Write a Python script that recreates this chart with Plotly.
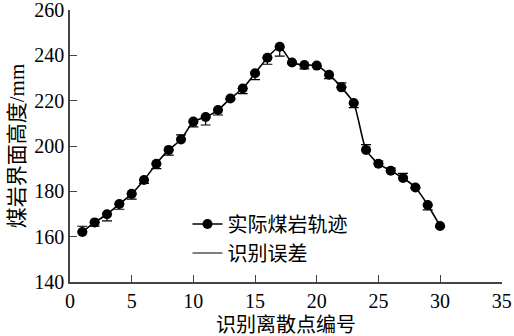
import plotly.graph_objects as go

point_ids = list(range(1, 31))
actual_height = [162.1, 166.3, 169.9, 174.4, 178.9, 185.0, 192.2, 198.3, 202.9, 210.8,
                 212.8, 215.9, 221.0, 225.4, 232.1, 239.0, 243.8, 236.9, 235.8, 235.5,
                 231.5, 225.9, 219.0, 198.3, 192.2, 189.1, 185.9, 181.7, 174.0, 164.7]
err_plus = [2.5, 0, 0, 0, 0, 0, 0, 0, 2.0, 0,
            0, 0, 0, 0, 0, 0, 0, 0, 0, 0,
            0, 2.0, 0, 2.3, 1.2, 1.2, 2.0, 0, 0, 0]
err_minus = [0, 1.7, 2.9, 2.3, 2.3, 1.5, 2.2, 2.3, 0, 2.3,
             3.5, 2.2, 0.5, 2.3, 2.8, 2.9, 4.1, 0.5, 1.7, 0.3,
             1.7, 0, 2.0, 0, 0, 0, 0, 0.3, 2.2, 0.6]

x_ticks = [0, 5, 10, 15, 20, 25, 30, 35]
y_ticks = [140, 160, 180, 200, 220, 240, 260]

FONT = '"Liberation Serif", "Times New Roman", "Noto Sans CJK SC", serif'

fig = go.Figure()
fig.add_trace(go.Scatter(
    x=point_ids, y=actual_height, mode="lines+markers", name="实际煤岩轨迹",
    line=dict(color="black", width=1.6, shape="spline", smoothing=0.6),
    marker=dict(color="black", size=10),
    error_y=dict(type="data", symmetric=False, array=err_plus, arrayminus=err_minus,
                 color="black", thickness=1.2, width=5),
))
fig.add_trace(go.Scatter(
    x=[None], y=[None], mode="lines", name="识别误差",
    line=dict(color="black", width=1.2),
))

fig.update_layout(
    width=514, height=336,
    margin=dict(l=70, r=12, t=10, b=54),
    paper_bgcolor="white", plot_bgcolor="white",
    font=dict(family=FONT, size=20, color="black"),
    showlegend=True,
    legend=dict(x=0.272, y=0.285, xanchor="left", yanchor="top",
                bgcolor="rgba(0,0,0,0)", font=dict(size=20),
                tracegroupgap=0, itemwidth=30),
    xaxis=dict(range=[0, 35.02], tickvals=x_ticks, ticks="inside", ticklen=7,
               tickcolor="#444", tickwidth=1.3, showline=True, linecolor="#444", linewidth=1.5,
               showgrid=False, zeroline=False, mirror=False, automargin=False,
               ticklabeloverflow="allow"),
    yaxis=dict(range=[140, 260.05], tickvals=y_ticks, ticks="inside", ticklen=7,
               tickcolor="#444", tickwidth=1.3, showline=True, linecolor="#444", linewidth=1.5,
               showgrid=False, zeroline=False, mirror=False, automargin=False,
               ticklabeloverflow="allow",
               title=dict(text="煤岩界面高度/mm", font=dict(size=21), standoff=4)),
    annotations=[dict(text="识别离散点编号", xref="paper", yref="paper",
                      x=0.5, y=0, yshift=-(325 - 282), xanchor="center", yanchor="middle",
                      showarrow=False, font=dict(size=20))],
)

fig.write_html("out.html")
